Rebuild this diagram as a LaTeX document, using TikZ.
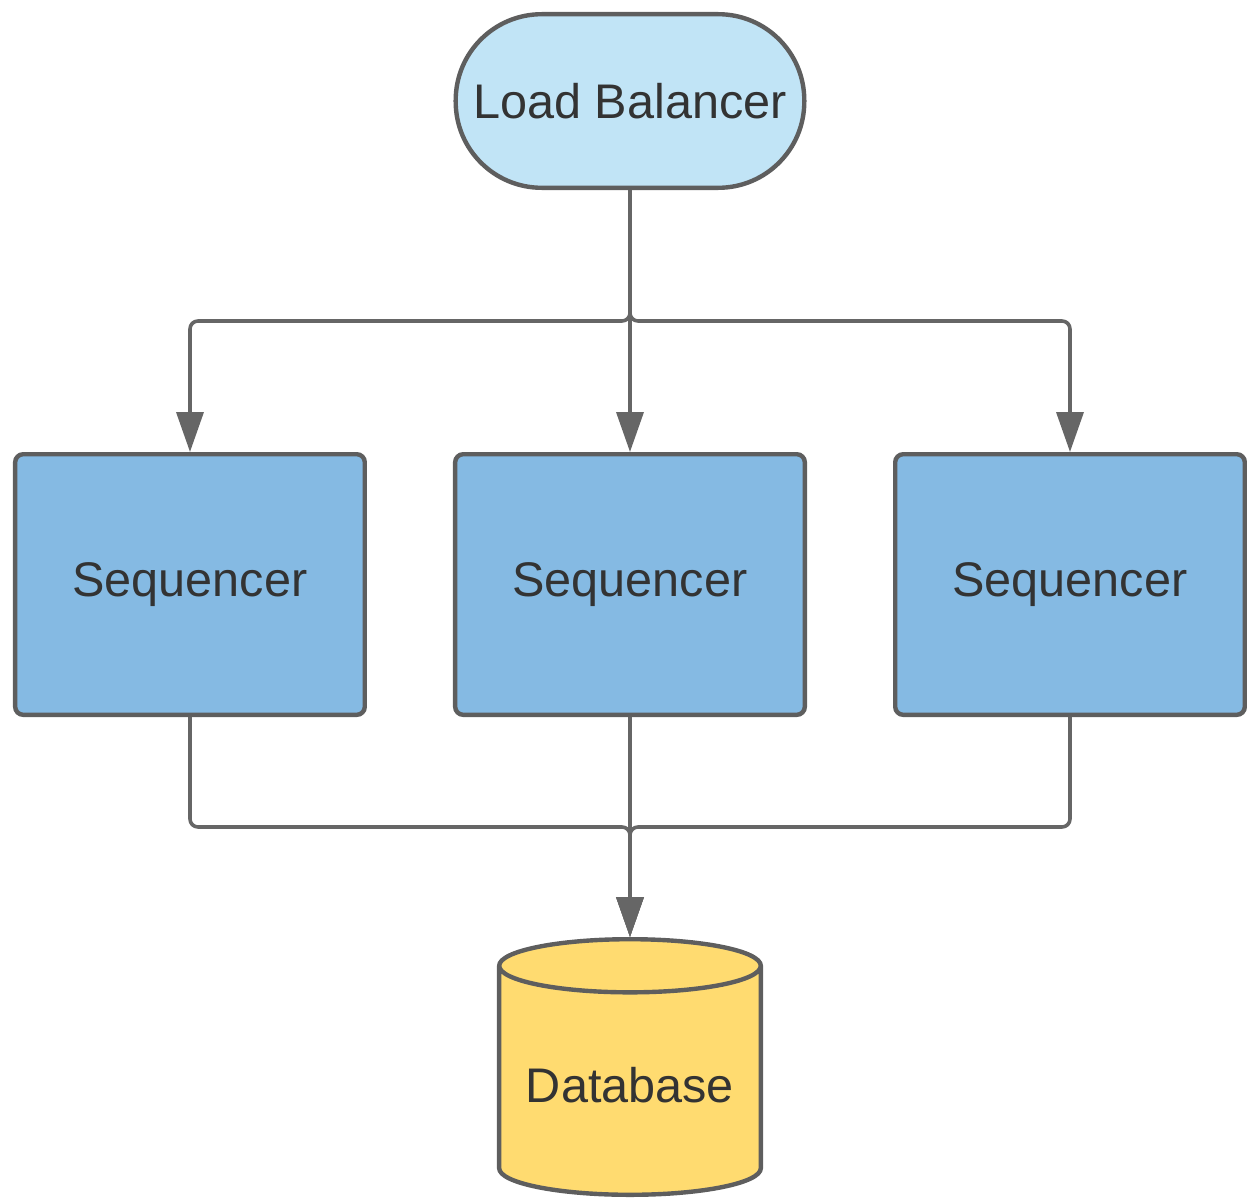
\documentclass[tikz,border=0pt]{standalone}
\usepackage{fontspec}
\setmainfont{Liberation Sans}
\usepackage{xcolor}
\usetikzlibrary{positioning,arrows.meta,shapes.geometric,calc}

\definecolor{lbfill}{HTML}{C1E4F6}
\definecolor{seqfill}{HTML}{85BAE3}
\definecolor{dbfill}{HTML}{FFDB70}
\definecolor{edge}{HTML}{5E5E5E}
\definecolor{wire}{HTML}{666666}
\definecolor{ink}{HTML}{333333}

\begin{document}
\begin{tikzpicture}[
  node distance=131pt and 43pt,
  every node/.style={font=\fontsize{24.3}{29}\selectfont, text=ink},
  balancer/.style={draw=edge, fill=lbfill, line width=2.2pt, rectangle, rounded corners=43pt, minimum width=174.3pt, minimum height=86.8pt, align=center},
  seqbox/.style={draw=edge, fill=seqfill, line width=2.2pt, rectangle, rounded corners=4pt, minimum width=174.8pt, minimum height=130.3pt, align=center},
  store/.style={draw=edge, fill=dbfill, line width=2.2pt, cylinder, shape border rotate=90, aspect=0.24, minimum width=130.8pt, minimum height=127.8pt, align=center},
  arr/.style={-{Triangle[length=20pt,width=13.5pt]}, line width=1.8pt, draw=wire, rounded corners=4pt}
]
\useasboundingbox (-315pt,50.5pt) rectangle (308.5pt,-549pt);

\node[balancer] (lb) at (0,0) {Load Balancer};
\node[seqbox, below=of lb] (seq2) {Sequencer};
\node[seqbox, left=of seq2] (seq1) {Sequencer};
\node[seqbox, right=of seq2] (seq3) {Sequencer};
\node[store, below=110pt of seq2] (db) {Database};

\coordinate (split) at ($(lb.south)+(0,-65.5pt)$);
\draw[arr] (lb.south) -- (split) -| (seq1.north);
\draw[arr] (lb.south) -- (split) -| (seq3.north);
\draw[arr] (lb.south) -- (seq2.north);

\coordinate (merge) at ($(seq2.south)+(0,-55pt)$);
\draw[arr] (seq1.south) |- (merge) -- (db.north);
\draw[arr] (seq3.south) |- (merge) -- (db.north);
\draw[arr] (seq2.south) -- (db.north);
\end{tikzpicture}
\end{document}
